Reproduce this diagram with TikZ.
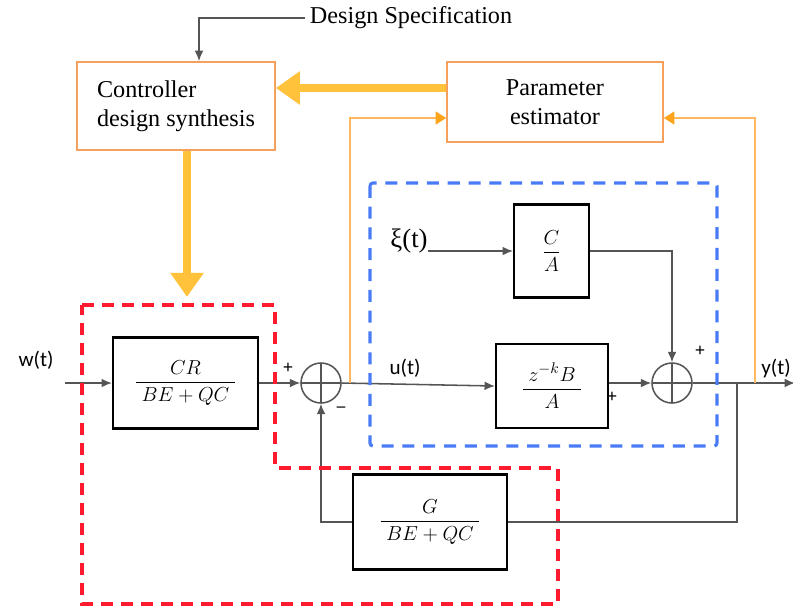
\documentclass[tikz,border=0pt]{standalone}
\usepackage{amsmath}
\usepackage{fontspec}
\setmainfont{Liberation Serif}
\newfontfamily\labelfont{Carlito}
\usetikzlibrary{
  arrows.meta,
  calc,
  positioning
}
\definecolor{wire}{HTML}{555555}
\definecolor{boxorange}{HTML}{F5A05C}
\definecolor{tuneline}{HTML}{FFB860}
\definecolor{tunehead}{HTML}{FFA31A}
\definecolor{gold}{HTML}{FFC23A}
\definecolor{ctrlred}{HTML}{FF1A2E}
\definecolor{plantblue}{HTML}{4A7BF7}
\tikzset{
  signal/.style={
    -{Latex[length=2.6mm,width=2.2mm]},
    line width=1.1pt,
    draw=wire
  },
  wireline/.style={
    line width=1.1pt,
    draw=wire
  },
  tuning/.style={
    -{Triangle[length=2.6mm,width=3.2mm,color=tunehead]},
    line width=1pt,
    draw=tuneline
  },
  synth/.style={
    -{Triangle[length=6mm,width=8mm]},
    line width=5.5pt,
    draw=gold
  },
  orangebox/.style={
    draw=boxorange,
    fill=white,
    line width=1.2pt,
    align=center,
    font=\fontsize{17.2}{21}\selectfont
  },
  tfbox/.style={
    draw=black,
    fill=white,
    line width=1.5pt,
    font=\fontsize{15}{18}\selectfont
  },
  sumjunction/.style={
    circle,
    draw=wire,
    line width=1.1pt,
    minimum size=1cm,
    inner sep=0pt,
    path picture={
      \draw[wire, line width=1.1pt]
        (path picture bounding box.north) -- (path picture bounding box.south)
        (path picture bounding box.west) -- (path picture bounding box.east);
    }
  },
  ctrlregion/.style={
    draw=ctrlred,
    line width=2.2pt,
    dash pattern=on 3mm off 2mm
  },
  plantregion/.style={
    draw=plantblue,
    line width=2.2pt,
    dash pattern=on 3mm off 2.2mm
  },
  signmark/.style={
    font=\bfseries\fontsize{13}{15}\selectfont,
    inner sep=0pt
  },
  siglabel/.style={
    font=\labelfont\fontsize{15}{18}\selectfont,
    inner sep=0pt
  }
}

\begin{document}
\begin{tikzpicture}[x=0.025cm, y=-0.025cm]
    \useasboundingbox (0,0) rectangle (793,607);

    \node[orangebox, minimum width=4.95cm, minimum height=2.2cm, align=left] (synthesis) at (176,106)
      {Controller\\design synthesis};
    \node[orangebox, minimum width=5.4cm, minimum height=2cm] (estimator) at (555,102)
      {Parameter\\estimator};
    \node[font=\fontsize{17.2}{20}\selectfont, anchor=west] (spec) at (305,18) {Design Specification};

    \node[tfbox, minimum width=3.625cm, minimum height=2.275cm] (controller) at (185.5,383)
      {$\dfrac{\;CR\;}{\;BE+QC\;}$};
    \node[tfbox, minimum width=1.875cm, minimum height=2.325cm] (noisefilter) at (551.5,251)
      {$\dfrac{C}{A}$};
    \node[tfbox, minimum width=2.8cm, minimum height=2.1cm] (plant) at (552,386)
      {$\dfrac{\;z^{-k}B\;}{A}$};
    \node[tfbox, minimum width=3.85cm, minimum height=2.375cm] (feedback) at (430,522)
      {$\dfrac{G}{\;BE+QC\;}$};

    \node[sumjunction] (errsum) at (321,383) {};
    \node[sumjunction] (outsum) at (672,383) {};

    \node[siglabel] (wlabel) at (36,360) {w(t)};
    \node[siglabel] (ulabel) at (405,368) {u(t)};
    \node[siglabel, anchor=east] (ylabel) at (791,368) {y(t)};
    \node[font=\fontsize{19}{22}\selectfont, inner sep=0pt] (xi) at (409,241) {ξ(t)};

    \node[signmark] (plusa) at (288,368) {+};
    \node[signmark, font=\bfseries\large] (minusa) at (341,409) {--};
    \node[signmark] (plusb) at (612,397) {+};
    \node[signmark] (plusc) at (700,351) {+};

    \coordinate (win) at (65,383);
    \coordinate (yout) at (795,383);
    \coordinate (branch) at (737,383);
    \coordinate (tapleft) at (350,383);
    \coordinate (tapright) at (755,383);

    \draw[signal] (win) -- (controller.west);
    \draw[signal] (controller.east) -- (errsum.west);
    \draw[signal] (errsum.east) -- (plant.west);
    \draw[signal] (plant.east |- outsum.west) -- (outsum.west);
    \draw[signal] (xi.east |- noisefilter.west) -- (noisefilter.west);
    \draw[signal] (noisefilter.east) -| (outsum.north);
    \draw[signal] (outsum.east) -- (yout);
    \draw[wireline] (branch) |- (feedback.east);
    \draw[signal] (feedback.west) -| (errsum.south);
    \draw[signal] (spec.west) -| ([xshift=0.575cm]synthesis.north);

    \draw[tuning] (tapleft) |- ([yshift=-0.4cm]estimator.west);
    \draw[tuning] (tapright) |- ([yshift=-0.4cm]estimator.east);
    \draw[synth] ([yshift=0.35cm]estimator.west) -- ([yshift=0.35cm]estimator.west -| synthesis.east);
    \draw[synth] ([xshift=0.275cm]synthesis.south) -- ++(0,146);

    \draw[ctrlregion] (82,305) -- (275,305) -- (275,468) -- (558,468)
      -- (558,604) -- (82,604) -- cycle;
    \draw[plantregion, rounded corners=2pt] (370,183) rectangle (717,446);
\end{tikzpicture}
\end{document}
